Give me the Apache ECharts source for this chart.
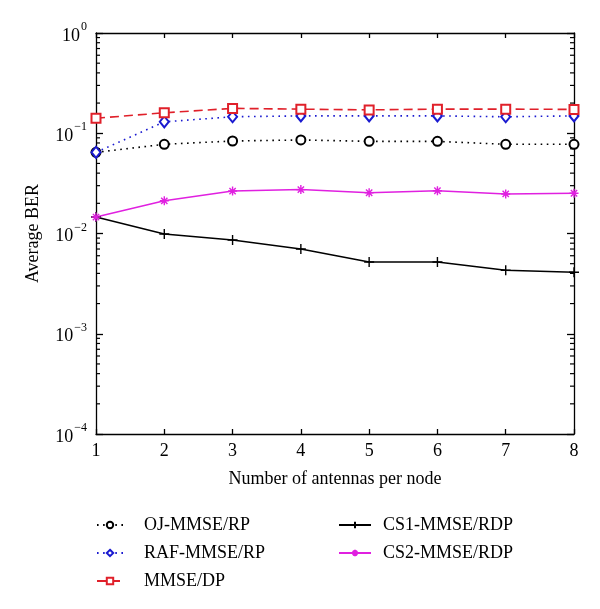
<!DOCTYPE html>
<html><head><meta charset="utf-8">
<script src="https://cdn.jsdelivr.net/npm/echarts@6/dist/echarts.min.js"></script>
<style>html,body{margin:0;padding:0;background:#fff}#c{width:600px;height:609px}</style>
</head><body><div id="c"></div>
<script>
const antennas = [1, 2, 3, 4, 5, 6, 7, 8];
const ojMmseRp = [0.0645, 0.0776, 0.0837, 0.0857, 0.0830, 0.0830, 0.0776, 0.0776];
const rafMmseRp = [0.0645, 0.130, 0.146, 0.149, 0.149, 0.149, 0.146, 0.149];
const mmseDp = [0.141, 0.160, 0.177, 0.174, 0.171, 0.174, 0.174, 0.173];
const cs1MmseRdp = [0.0146, 0.0099, 0.0086, 0.0070, 0.0052, 0.0052, 0.0043, 0.0041];
const cs2MmseRdp = [0.0146, 0.0212, 0.0265, 0.0274, 0.0255, 0.0267, 0.0248, 0.0252];
const seriesNames = ['OJ-MMSE/RP', 'RAF-MMSE/RP', 'MMSE/DP', 'CS1-MMSE/RDP', 'CS2-MMSE/RDP'];
const yMin = 1e-4, yMax = 1;
const xTitle = 'Number of antennas per node';
const yTitle = 'Average BER';

// minor tick values of the log axis (2..9 x 10^k)
const minorTickValues = [];
for (let k = -4; k < 0; k++) for (let m = 2; m <= 9; m++) minorTickValues.push(m * Math.pow(10, k));

const FONT = 'Liberation Serif';
const pair = arr => antennas.map((x, i) => [x, arr[i]]);

const chart = echarts.init(document.getElementById('c'));
const axisLine = { show: true, lineStyle: { color: '#000', width: 1.3 } };
const supLabel = v => {
  const e = Math.round(Math.log10(v));
  return '{b|10}{s|' + (e < 0 ? '\u2212' + (-e) : e) + '}';
};

chart.setOption({
  backgroundColor: '#fff',
  animation: false,
  grid: { left: 96, right: 26, top: 33, bottom: 175, containLabel: false },
  xAxis: [
    { type: 'value', min: 1, max: 8, interval: 1, position: 'bottom',
      axisLine, splitLine: { show: false },
      axisTick: { inside: true, length: 5, lineStyle: { color: '#000', width: 1.3 } },
      axisLabel: { fontFamily: FONT, fontSize: 18, color: '#000', margin: 8 },
      name: xTitle, nameLocation: 'middle', nameGap: 36,
      nameTextStyle: { fontFamily: FONT, fontSize: 18, color: '#000' } },
    { type: 'value', min: 1, max: 8, interval: 1, position: 'top',
      axisLine, splitLine: { show: false },
      axisTick: { inside: true, length: 5, lineStyle: { color: '#000', width: 1.3 } },
      axisLabel: { show: false } }
  ],
  yAxis: [
    { type: 'log', logBase: 10, min: yMin, max: yMax, position: 'left',
      axisLine, splitLine: { show: false }, minorTick: { show: false },
      axisTick: { inside: true, length: 7, lineStyle: { color: '#000', width: 1.3 } },
      axisLabel: { fontFamily: FONT, color: '#000', margin: 9, formatter: supLabel,
        rich: { b: { fontFamily: FONT, fontSize: 18, color: '#000', verticalAlign: 'bottom', lineHeight: 18 },
                s: { fontFamily: FONT, fontSize: 12, color: '#000', verticalAlign: 'bottom', lineHeight: 12, padding: [0, 0, 12, 1] } },
        padding: [6, 0, 0, 0] },
      name: yTitle, nameLocation: 'middle', nameGap: 54,
      nameTextStyle: { fontFamily: FONT, fontSize: 18, color: '#000' } },
    { type: 'log', logBase: 10, min: yMin, max: yMax, position: 'right',
      axisLine, splitLine: { show: false },
      axisTick: { inside: true, length: 7, lineStyle: { color: '#000', width: 1.3 } },
      axisLabel: { show: false } }
  ],
  legend: [
    { data: seriesNames.slice(0, 3), orient: 'vertical', left: 96, top: 516, itemGap: 10, padding: 0,
      itemWidth: 26, itemHeight: 8,
      textStyle: { fontFamily: FONT, fontSize: 18, color: '#000', lineHeight: 17, padding: [0, 0, 0, 16] } },
    { data: seriesNames.slice(3), orient: 'vertical', left: 338, top: 516, itemGap: 10, padding: 0,
      itemWidth: 32, itemHeight: 8,
      textStyle: { fontFamily: FONT, fontSize: 18, color: '#000', lineHeight: 17, padding: [0, 0, 0, 7] } }
  ],
  series: [
    { name: seriesNames[0], type: 'line', data: pair(ojMmseRp),
      symbol: 'emptyCircle', symbolSize: 9,
      lineStyle: { color: '#000', width: 1.6, type: [1.6, 4.5] },
      itemStyle: { color: '#000', borderWidth: 1.3 } },
    { name: seriesNames[1], type: 'line', data: pair(rafMmseRp),
      symbol: 'emptyDiamond', symbolSize: [9, 11],
      lineStyle: { color: '#1a1ad0', width: 1.6, type: [1.6, 4.5] },
      itemStyle: { color: '#1a1ad0', borderWidth: 1.3 } },
    { name: seriesNames[2], type: 'line', data: pair(mmseDp),
      symbol: 'emptyRect', symbolSize: 9,
      lineStyle: { color: '#e0202a', width: 1.6, type: [9, 5] },
      itemStyle: { color: '#e0202a', borderWidth: 1.2 } },
    { name: seriesNames[3], type: 'line', data: pair(cs1MmseRdp),
      symbol: 'path://M0,-5L0,5M-5,0L5,0', symbolSize: 10, symbolKeepAspect: true,
      lineStyle: { color: '#000', width: 1.5 },
      itemStyle: { color: 'rgba(0,0,0,0)', borderColor: '#000', borderWidth: 1.4 } },
    { name: seriesNames[4], type: 'line', data: pair(cs2MmseRdp),
      symbol: 'path://M0,-5L0,5M-5,0L5,0M-3.5,-3.5L3.5,3.5M-3.5,3.5L3.5,-3.5', symbolSize: 9, symbolKeepAspect: true,
      lineStyle: { color: '#e020e0', width: 1.5 },
      itemStyle: { color: 'rgba(0,0,0,0)', borderColor: '#e020e0', borderWidth: 1.4 } },
    { name: 'minorTicks', type: 'custom', silent: true, clip: false, z: 1,
      data: minorTickValues.map(v => [1, v]),
      renderItem: (params, api) => {
        const cs = params.coordSys;
        const y = api.coord([1, api.value(1)])[1];
        const st = { stroke: '#000', lineWidth: 1.2 };
        return { type: 'group', children: [
          { type: 'line', shape: { x1: cs.x, y1: y, x2: cs.x + 4, y2: y }, style: st },
          { type: 'line', shape: { x1: cs.x + cs.width - 4, y1: y, x2: cs.x + cs.width, y2: y }, style: st }
        ] };
      } }
  ]
});
</script></body></html>
